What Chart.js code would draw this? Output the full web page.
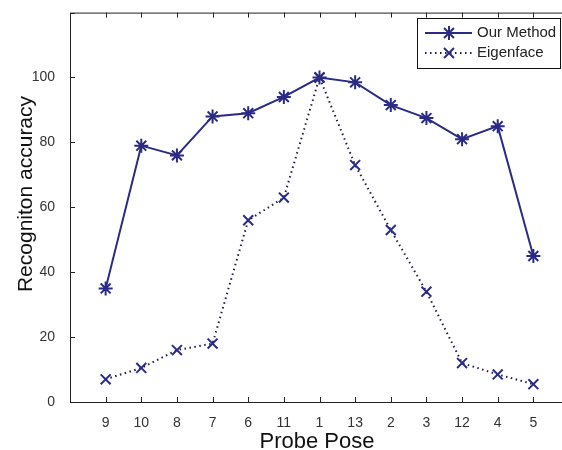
<!DOCTYPE html>
<html>
<head>
<meta charset="utf-8">
<script src="https://cdn.jsdelivr.net/npm/chart.js@4"></script>
<style>
  html, body { margin: 0; padding: 0; background: #fff; overflow: hidden; }
  canvas { display: block; }
</style>
</head>
<body>
<canvas id="poseChart" width="578" height="450"></canvas>
<script>
// probe poses, in plotted order
const poses = ['9', '10', '8', '7', '6', '11', '1', '13', '2', '3', '12', '4', '5'];
const ourMethod = [35, 79, 76, 88, 89, 94, 100, 98.5, 91.5, 87.5, 81, 85, 45];
const eigenface = [7, 10.5, 16, 18, 56, 63, 100, 73, 53, 34, 12, 8.5, 5.5];
const yTicks = [0, 20, 40, 60, 80, 100, 120];

const navy = '#2b2b86';
const tickFont = '"Liberation Sans", Arial, sans-serif';
const toPoints = arr => arr.map((v, i) => ({ x: i + 1, y: v }));

// matlab style box with inward ticks, axis titles and legend
const matlabBox = {
    id: 'matlabBox',
    afterDraw(chart) {
        const { ctx, chartArea: a, scales: { x, y } } = chart;
        ctx.save();
        ctx.strokeStyle = '#222';
        ctx.lineWidth = 1;
        ctx.strokeRect(a.left + 0.5, a.top + 0.5, a.right - a.left, a.bottom - a.top);
        ctx.beginPath();
        poses.forEach((p, i) => {
            const px = Math.round(x.getPixelForValue(i + 1)) + 0.5;
            ctx.moveTo(px, a.bottom); ctx.lineTo(px, a.bottom - 5);
            ctx.moveTo(px, a.top); ctx.lineTo(px, a.top + 5);
        });
        yTicks.forEach(v => {
            const py = Math.round(y.getPixelForValue(v)) + 0.5;
            ctx.moveTo(a.left, py); ctx.lineTo(a.left + 5, py);
            ctx.moveTo(a.right, py); ctx.lineTo(a.right - 5, py);
        });
        ctx.stroke();

        // axis titles
        ctx.fillStyle = '#111';
        ctx.font = '22px "Liberation Sans", Arial, sans-serif';
        ctx.textAlign = 'center';
        ctx.textBaseline = 'alphabetic';
        ctx.fillText('Probe Pose', 317, 448);
        ctx.save();
        ctx.translate(32, 194);
        ctx.rotate(-Math.PI / 2);
        ctx.font = '21px "Liberation Sans", Arial, sans-serif';
        ctx.fillText('Recogniton accuracy', 0, 0);
        ctx.restore();

        // legend
        const lx = 417, ly = 18, lw = 143, lh = 50;
        ctx.textAlign = 'left';
        ctx.fillStyle = '#fff';
        ctx.fillRect(lx, ly, lw, lh);
        ctx.strokeStyle = '#111';
        ctx.strokeRect(lx + 0.5, ly + 0.5, lw, lh);
        chart.data.datasets.forEach((ds, i) => {
            const cy = ly + 15 + i * 20;
            ctx.beginPath();
            ctx.strokeStyle = ds.borderColor;
            ctx.lineWidth = ds.borderWidth;
            ctx.setLineDash(ds.borderDash || []);
            ctx.moveTo(lx + 8, cy); ctx.lineTo(lx + 55, cy);
            ctx.stroke();
            ctx.setLineDash([]);
            ctx.strokeStyle = ds.pointBorderColor;
            Chart.helpers.drawPoint(ctx, {
                pointStyle: ds.pointStyle, radius: ds.pointRadius,
                borderWidth: ds.pointBorderWidth
            }, lx + 32, cy);
            ctx.fillStyle = '#222';
            ctx.font = '15px "Liberation Sans", Arial, sans-serif';
            ctx.textBaseline = 'middle';
            ctx.fillText(ds.label, lx + 60, cy);
        });
        ctx.restore();
    }
};

new Chart(document.getElementById('poseChart'), {
    type: 'line',
    data: {
        datasets: [
            {
                label: 'Our Method', data: toPoints(ourMethod),
                borderColor: navy, backgroundColor: navy, borderWidth: 2,
                pointStyle: 'star', pointRadius: 7, pointBorderWidth: 2,
                pointBorderColor: navy
            },
            {
                label: 'Eigenface', data: toPoints(eigenface),
                borderColor: '#1c1c44', backgroundColor: navy, borderWidth: 2,
                borderDash: [1.5, 3.5],
                pointStyle: 'crossRot', pointRadius: 7, pointBorderWidth: 2,
                pointBorderColor: navy
            }
        ]
    },
    options: {
        responsive: false,
        animation: false,
        layout: { padding: { top: 11, right: 2, left: 0, bottom: 0 } },
        plugins: { legend: { display: false }, tooltip: { enabled: false } },
        scales: {
            x: {
                type: 'linear', min: 0, max: 14,
                afterBuildTicks: s => { s.ticks = poses.map((p, i) => ({ value: i + 1 })); },
                afterFit: s => { s.height = 48; },
                grid: { display: false }, border: { display: false },
                ticks: {
                    autoSkip: false, maxRotation: 0, padding: 5, color: '#333',
                    font: { family: tickFont, size: 14 },
                    callback: v => poses[v - 1]
                }
            },
            y: {
                min: 0, max: 120,
                afterBuildTicks: s => { s.ticks = yTicks.map(v => ({ value: v })); },
                afterFit: s => { s.width = 70; },
                grid: { display: false }, border: { display: false },
                ticks: {
                    padding: 7, color: '#333',
                    font: { family: tickFont, size: 14, lineHeight: 0.8 },
                    callback: v => v === 120 ? '' : v
                }
            }
        }
    },
    plugins: [matlabBox]
});
</script>
</body>
</html>
